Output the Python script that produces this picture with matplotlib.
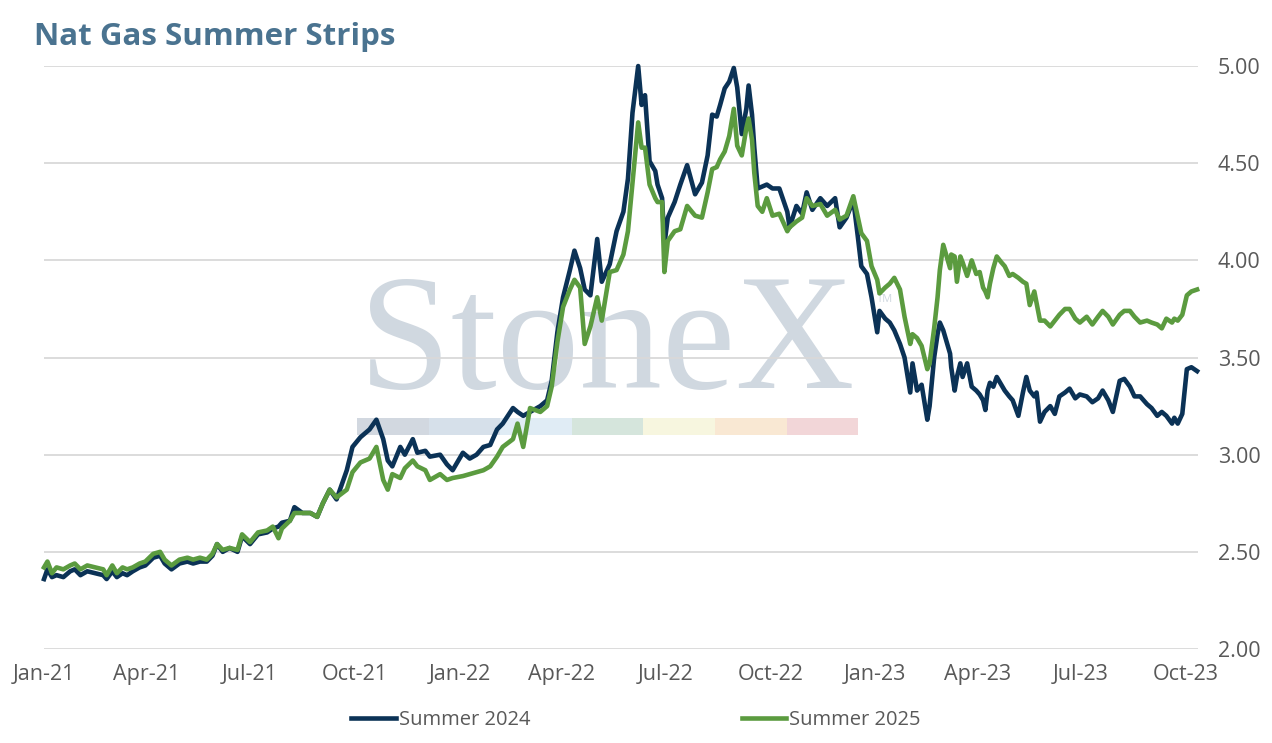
import matplotlib
matplotlib.use("Agg")
import matplotlib.pyplot as plt
import matplotlib.dates as mdates
import pandas as pd
from matplotlib.patches import Rectangle

plt.rcParams['font.family'] = ['Open Sans', 'DejaVu Sans']

# 2021 build-up
dates_a = [
    "2021-01-01", "2021-01-04", "2021-01-08", "2021-01-12", "2021-01-18", "2021-01-24",
    "2021-01-28", "2021-02-02", "2021-02-08", "2021-02-15", "2021-02-22", "2021-02-25",
    "2021-03-02", "2021-03-06", "2021-03-11", "2021-03-15", "2021-03-20", "2021-03-26",
    "2021-03-31", "2021-04-07", "2021-04-13", "2021-04-17", "2021-04-23", "2021-04-30",
    "2021-05-07", "2021-05-12", "2021-05-18", "2021-05-24", "2021-05-29", "2021-06-02",
    "2021-06-07", "2021-06-13", "2021-06-20", "2021-06-24", "2021-07-01", "2021-07-08",
    "2021-07-16", "2021-07-21", "2021-07-26", "2021-07-29", "2021-08-05", "2021-08-09",
    "2021-08-16", "2021-08-23", "2021-08-29", "2021-09-03", "2021-09-09", "2021-09-15",
]
s24_a = [
    2.36, 2.41, 2.37, 2.38, 2.37, 2.40, 2.41, 2.38, 2.40, 2.39, 2.38, 2.36,
    2.40, 2.37, 2.39, 2.38, 2.40, 2.42, 2.43, 2.47, 2.48, 2.44, 2.41, 2.44,
    2.45, 2.44, 2.45, 2.45, 2.48, 2.54, 2.50, 2.52, 2.50, 2.58, 2.54, 2.59,
    2.60, 2.62, 2.63, 2.65, 2.66, 2.73, 2.70, 2.70, 2.68, 2.75, 2.82, 2.77,
]
s25_a = [
    2.42, 2.45, 2.39, 2.42, 2.41, 2.43, 2.44, 2.41, 2.43, 2.42, 2.41, 2.38,
    2.43, 2.39, 2.42, 2.41, 2.42, 2.44, 2.45, 2.49, 2.50, 2.46, 2.43, 2.46,
    2.47, 2.46, 2.47, 2.46, 2.49, 2.54, 2.51, 2.52, 2.51, 2.59, 2.55, 2.60,
    2.61, 2.63, 2.57, 2.62, 2.66, 2.70, 2.70, 2.70, 2.68, 2.75, 2.82, 2.78,
]

# late 2021 through the 2022 peaks
dates_b = [
    "2021-09-24", "2021-09-29", "2021-10-06",
    "2021-10-14", "2021-10-20", "2021-10-26", "2021-10-30", "2021-11-03", "2021-11-10",
    "2021-11-14", "2021-11-21", "2021-11-25", "2021-12-02", "2021-12-06", "2021-12-15",
    "2021-12-21", "2021-12-26", "2022-01-04", "2022-01-10", "2022-01-16", "2022-01-22",
    "2022-01-28", "2022-02-03", "2022-02-08", "2022-02-17", "2022-02-21", "2022-02-26",
    "2022-03-04", "2022-03-13", "2022-03-19", "2022-03-23", "2022-03-28", "2022-04-02",
    "2022-04-08", "2022-04-12", "2022-04-17", "2022-04-21", "2022-04-26", "2022-05-02",
    "2022-05-06", "2022-05-13", "2022-05-19", "2022-05-25", "2022-05-29", "2022-06-02",
    "2022-06-07", "2022-06-10", "2022-06-13", "2022-06-17", "2022-06-22", "2022-06-24",
    "2022-06-28", "2022-06-30", "2022-07-03", "2022-07-09", "2022-07-14", "2022-07-20",
    "2022-07-27", "2022-08-02", "2022-08-07", "2022-08-11", "2022-08-15", "2022-08-18",
    "2022-08-22", "2022-08-26", "2022-08-30", "2022-09-02", "2022-09-06", "2022-09-10",
    "2022-09-12", "2022-09-15", "2022-09-17", "2022-09-20", "2022-09-24", "2022-09-28",
    "2022-10-03", "2022-10-09", "2022-10-16", "2022-10-18", "2022-10-24", "2022-10-29",
    "2022-11-02", "2022-11-07", "2022-11-14", "2022-11-20", "2022-11-27", "2022-12-01",
    "2022-12-07", "2022-12-13", "2022-12-17", "2022-12-20", "2022-12-25", "2022-12-29",
    "2023-01-03", "2023-01-05", "2023-01-10", "2023-01-14", "2023-01-18", "2023-01-23",
    "2023-01-27", "2023-02-01", "2023-02-03", "2023-02-07", "2023-02-11", "2023-02-16",
]
s24_b = [
    2.92, 3.04, 3.09,
    3.13, 3.18, 3.08, 2.97, 2.94, 3.04, 3.00, 3.08, 3.01, 3.02, 2.99, 3.00,
    2.95, 2.92, 3.01, 2.98, 3.00, 3.04, 3.05, 3.13, 3.16, 3.24, 3.22, 3.20,
    3.22, 3.25, 3.28, 3.38, 3.63, 3.81, 3.95, 4.05, 3.96, 3.85, 3.82, 4.11,
    3.89, 3.98, 4.15, 4.25, 4.42, 4.76, 5.00, 4.80, 4.85, 4.51, 4.46, 4.39,
    4.32, 4.08, 4.22, 4.30, 4.39, 4.49, 4.34, 4.40, 4.54, 4.75, 4.74, 4.80,
    4.885, 4.92, 4.99, 4.89, 4.65, 4.78, 4.90, 4.75, 4.58, 4.37, 4.38, 4.39,
    4.37, 4.37, 4.25, 4.17, 4.28, 4.24, 4.35, 4.26, 4.32, 4.28, 4.32, 4.17,
    4.22, 4.31, 4.12, 3.97, 3.93, 3.81, 3.63, 3.74, 3.70, 3.68, 3.64, 3.57,
    3.50, 3.32, 3.47, 3.33, 3.36, 3.18,
]
s25_b = [
    2.82, 2.91, 2.96,
    2.98, 3.04, 2.87, 2.82, 2.90, 2.88, 2.93, 2.97, 2.94, 2.92, 2.87, 2.90,
    2.87, 2.88, 2.89, 2.90, 2.91, 2.92, 2.94, 2.99, 3.04, 3.08, 3.16, 3.04,
    3.24, 3.22, 3.25, 3.35, 3.58, 3.76, 3.85, 3.90, 3.86, 3.57, 3.66, 3.81,
    3.69, 3.94, 3.95, 4.03, 4.15, 4.40, 4.71, 4.58, 4.58, 4.39, 4.32, 4.30,
    4.30, 3.94, 4.10, 4.15, 4.16, 4.28, 4.23, 4.22, 4.35, 4.47, 4.48, 4.52,
    4.56, 4.64, 4.78, 4.59, 4.54, 4.68, 4.73, 4.62, 4.45, 4.28, 4.25, 4.32,
    4.23, 4.24, 4.15, 4.17, 4.20, 4.22, 4.32, 4.28, 4.29, 4.23, 4.26, 4.21,
    4.23, 4.33, 4.22, 4.14, 4.10, 3.97, 3.90, 3.83, 3.86, 3.88, 3.91, 3.85,
    3.71, 3.57, 3.62, 3.60, 3.56, 3.44,
]

# 2023
dates_c = [
    "2023-02-18", "2023-02-22", "2023-02-25", "2023-02-27", "2023-03-02", "2023-03-05",
    "2023-03-08", "2023-03-09", "2023-03-12", "2023-03-14", "2023-03-17", "2023-03-19",
    "2023-03-23", "2023-03-27", "2023-03-31", "2023-04-03", "2023-04-06", "2023-04-08",
    "2023-04-10", "2023-04-12", "2023-04-15", "2023-04-18", "2023-04-22", "2023-04-25",
    "2023-04-29", "2023-05-02", "2023-05-07", "2023-05-11", "2023-05-14", "2023-05-17",
    "2023-05-21", "2023-05-23", "2023-05-26", "2023-05-30", "2023-06-04", "2023-06-08",
    "2023-06-12", "2023-06-17", "2023-06-21", "2023-06-26", "2023-06-30", "2023-07-06",
    "2023-07-11", "2023-07-16", "2023-07-20", "2023-07-25", "2023-07-29", "2023-08-04",
    "2023-08-08", "2023-08-13", "2023-08-17", "2023-08-22", "2023-08-28", "2023-09-01",
    "2023-09-06", "2023-09-10", "2023-09-14", "2023-09-19", "2023-09-21", "2023-09-24",
    "2023-09-28", "2023-10-02", "2023-10-06", "2023-10-11",
]
s24_c = [
    3.25, 3.50, 3.62, 3.68, 3.64, 3.58, 3.52, 3.45, 3.33, 3.40,
    3.47, 3.40, 3.47, 3.35, 3.33, 3.31, 3.28, 3.23, 3.33, 3.37,
    3.35, 3.40, 3.36, 3.33, 3.30, 3.28, 3.20, 3.32, 3.40, 3.33,
    3.30, 3.32, 3.17, 3.22, 3.25, 3.21, 3.30, 3.32, 3.34, 3.29,
    3.31, 3.30, 3.27, 3.29, 3.33, 3.28, 3.22, 3.38, 3.39, 3.35,
    3.30, 3.30, 3.26, 3.24, 3.20, 3.22, 3.20, 3.16, 3.19, 3.16,
    3.21, 3.44, 3.45, 3.43,
]
s25_c = [
    3.47, 3.65, 3.81, 3.95, 4.08, 4.02, 3.96, 4.03, 4.02, 3.89,
    4.02, 3.99, 3.92, 4.00, 3.93, 3.94, 3.86, 3.84, 3.81, 3.88,
    3.96, 4.02, 3.99, 3.97, 3.92, 3.93, 3.91, 3.89, 3.88, 3.77,
    3.84, 3.78, 3.69, 3.69, 3.66, 3.69, 3.72, 3.75, 3.75, 3.70,
    3.68, 3.71, 3.67, 3.71, 3.74, 3.71, 3.67, 3.72, 3.74, 3.74,
    3.71, 3.68, 3.69, 3.68, 3.67, 3.65, 3.70, 3.68, 3.70, 3.69,
    3.72, 3.82, 3.84, 3.85,
]

y_ticks = [2.00, 2.50, 3.00, 3.50, 4.00, 4.50, 5.00]
band_colors = ["#d2d8e0", "#d6e0ea", "#e0ecf5", "#d5e5dc", "#f7f6df", "#f9e8d3", "#f2d6d8"]

df = pd.DataFrame({
    "date": pd.to_datetime(dates_a + dates_b + dates_c),
    "Summer 2024": s24_a + s24_b + s24_c,
    "Summer 2025": s25_a + s25_b + s25_c,
})

fig = plt.figure(figsize=(12.72, 7.43), dpi=100)
ax = fig.add_axes([0.0346, 0.1265, 0.9074, 0.7846])

# faint StoneX watermark behind everything
ax.text(0.488, 0.4477, "StoneX", transform=ax.transAxes, ha="center", va="baseline",
        fontsize=119, color="#d0d8e0", family=["Liberation Serif", "DejaVu Serif"], zorder=0.1)
ax.text(0.722, 0.595, "TM", transform=ax.transAxes, fontsize=8, color="#d0d8e0", zorder=0.1)
seg_w = (0.7054 - 0.2712) / len(band_colors)
for i, c in enumerate(band_colors):
    ax.add_patch(Rectangle((0.2712 + i * seg_w, 0.367), seg_w, 0.029, transform=ax.transAxes,
                           facecolor=c, edgecolor="none", zorder=0.1))

ax.plot(df["date"], df["Summer 2024"], color="#0b3256", lw=3.3, label="Summer 2024",
        solid_joinstyle="round", zorder=3, clip_on=False)
ax.plot(df["date"], df["Summer 2025"], color="#5b9b3f", lw=3.3, label="Summer 2025",
        solid_joinstyle="round", zorder=3, clip_on=False)

ax.set_ylim(2.0, 5.0)
ax.set_xlim(pd.Timestamp("2021-01-01"), pd.Timestamp("2023-10-12"))
ax.set_yticks(y_ticks)
ax.set_yticklabels([f"{t:.2f}" for t in y_ticks])
ax.yaxis.tick_right()
ax.xaxis.set_major_locator(mdates.MonthLocator(bymonth=[1, 4, 7, 10]))
ax.xaxis.set_major_formatter(mdates.DateFormatter("%b-%y"))
ax.tick_params(axis="both", length=0, labelsize=15.5, colors="#595959")
ax.tick_params(axis="y", pad=14)
ax.tick_params(axis="x", pad=11)
for s in ax.spines.values():
    s.set_visible(False)
ax.set_axisbelow(True)
ax.grid(axis="y", color="#d9d9d9", lw=1.3, zorder=0.5)

fig.text(0.027, 0.9394, "Nat Gas Summer Strips", fontsize=22.5, fontweight="bold",
         color="#4a7390", va="baseline", ha="left")

fig.legend(loc="center", bbox_to_anchor=(0.5, 0.031), ncol=2, frameon=False,
           fontsize=14.5, handlelength=2.2, handletextpad=0.15, columnspacing=10.5,
           labelcolor="#595959")

fig.savefig("out.png", dpi=100, facecolor="white")
